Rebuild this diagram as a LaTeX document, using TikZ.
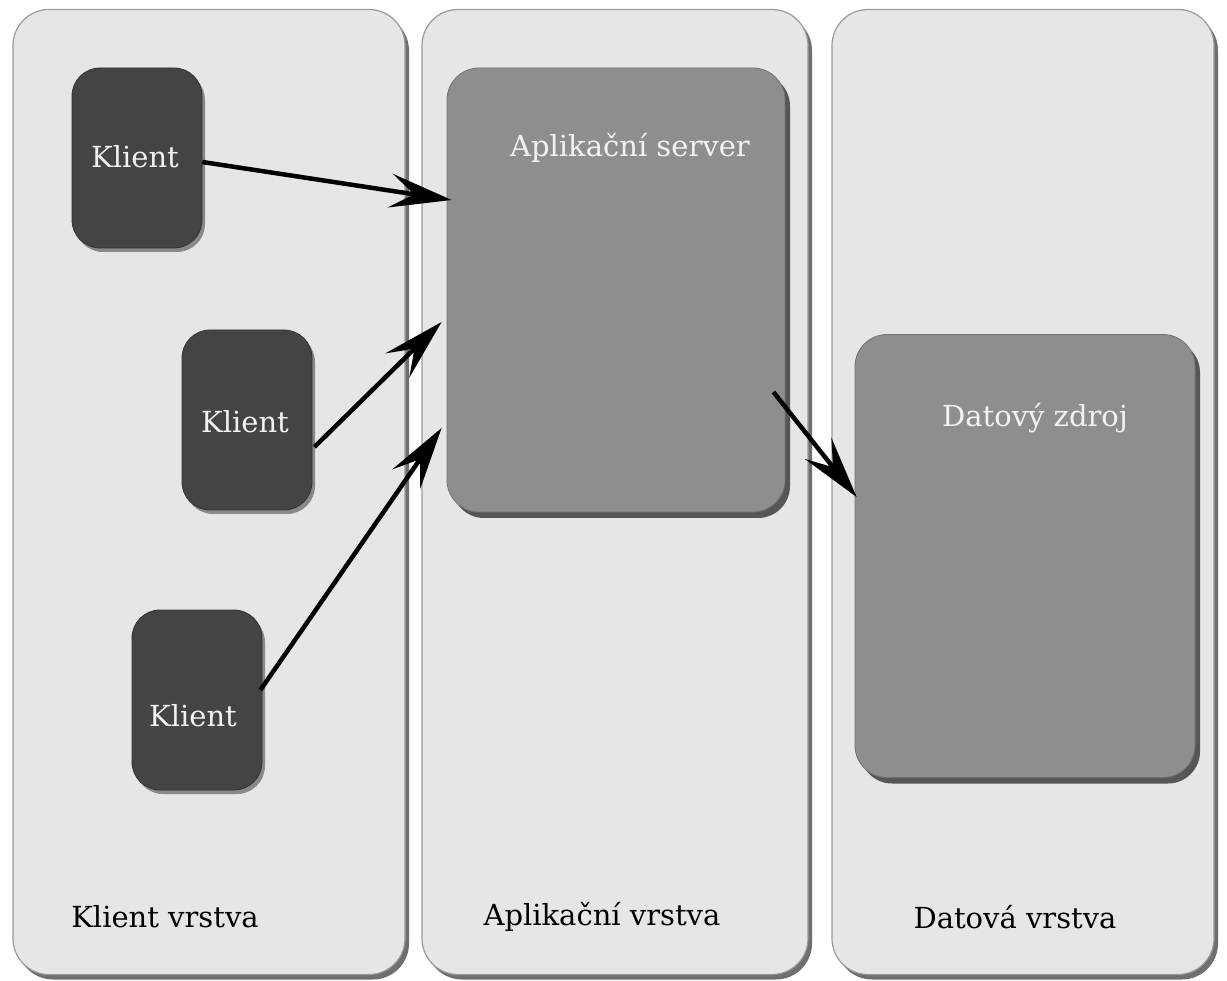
\documentclass[tikz,border=0pt]{standalone}
\usepackage{fontspec}
\setmainfont{DejaVu Serif}
\usetikzlibrary{arrows.meta,shadows}
\definecolor{panelfill}{HTML}{E6E6E6}
\definecolor{panelline}{HTML}{9A9A9A}
\definecolor{clientfill}{HTML}{444444}
\definecolor{boxfill}{HTML}{8E8E8E}
\definecolor{lbl}{HTML}{F2F2F2}
\tikzset{
  panel/.style={draw=panelline, line width=1.2pt, fill=panelfill, rounded corners=36pt,
    minimum height=965pt, inner sep=0pt,
    drop shadow={shadow xshift=4pt, shadow yshift=-5pt, fill=black!75, opacity=.75}},
  clientbox/.style={fill=clientfill, draw=black!80, line width=0.8pt, rounded corners=28pt,
    minimum width=130pt, minimum height=180pt, inner sep=0pt,
    drop shadow={shadow xshift=3pt, shadow yshift=-4pt, fill=black!70, opacity=.6}},
  bigbox/.style={fill=boxfill, draw=black!55, line width=0.8pt, rounded corners=32pt,
    inner sep=0pt,
    drop shadow={shadow xshift=5pt, shadow yshift=-6pt, fill=black!80, opacity=.8}},
  boxtext/.style={text=lbl, font=\fontsize{29}{34}\selectfont, inner sep=0pt},
  layertext/.style={text=black, font=\fontsize{29}{34}\selectfont, inner sep=0pt},
  arr/.style={line width=4.5pt, black, -{Stealth[length=62pt,width=34pt,inset=24pt]}}
}
\begin{document}
\begin{tikzpicture}[x=1pt,y=-1pt]
\useasboundingbox[fill=white] (0,0) rectangle (1227,981);
% panels
\node[panel, minimum width=392pt] (p1) at (209,492) {};
\node[panel, minimum width=386pt] (p2) at (615,492) {};
\node[panel, minimum width=382pt] (p3) at (1023,492) {};
% boxes
\node[clientbox] (k1) at (137,158) {};
\node[clientbox] (k2) at (247,420) {};
\node[clientbox] (k3) at (197,700) {};
\node[bigbox, minimum width=338pt, minimum height=444pt] (app) at (616,290) {};
\node[bigbox, minimum width=340pt, minimum height=443pt] (data) at (1025,556) {};
% texts
\node[boxtext] (k1t) at (135,157) {Klient};
\node[boxtext] (k2t) at (245,422) {Klient};
\node[boxtext] (k3t) at (193,716) {Klient};
\node[boxtext] (appt) at (630,148) {Aplikační server};
\node[boxtext] (datat) at (1035,418) {Datový zdroj};
\node[layertext] (l1) at (165,917) {Klient vrstva};
\node[layertext] (l2) at (602,917) {Aplikační vrstva};
\node[layertext] (l3) at (1015,917) {Datová vrstva};
% arrows
\draw[arr] ([yshift=-4pt]k1.east) -- ([xshift=5pt,yshift=90pt]app.west);
\draw[arr] ([xshift=2pt,yshift=-27pt]k2.east) -- ([xshift=-5pt,yshift=-32pt]app.west);
\draw[arr] ([xshift=-2pt,yshift=10pt]k3.east) -- ([xshift=-5pt,yshift=-138pt]app.west);
\draw[arr] ([xshift=-12pt,yshift=-102pt]app.east) -- ([xshift=2pt,yshift=59pt]data.west);
\end{tikzpicture}
\end{document}
